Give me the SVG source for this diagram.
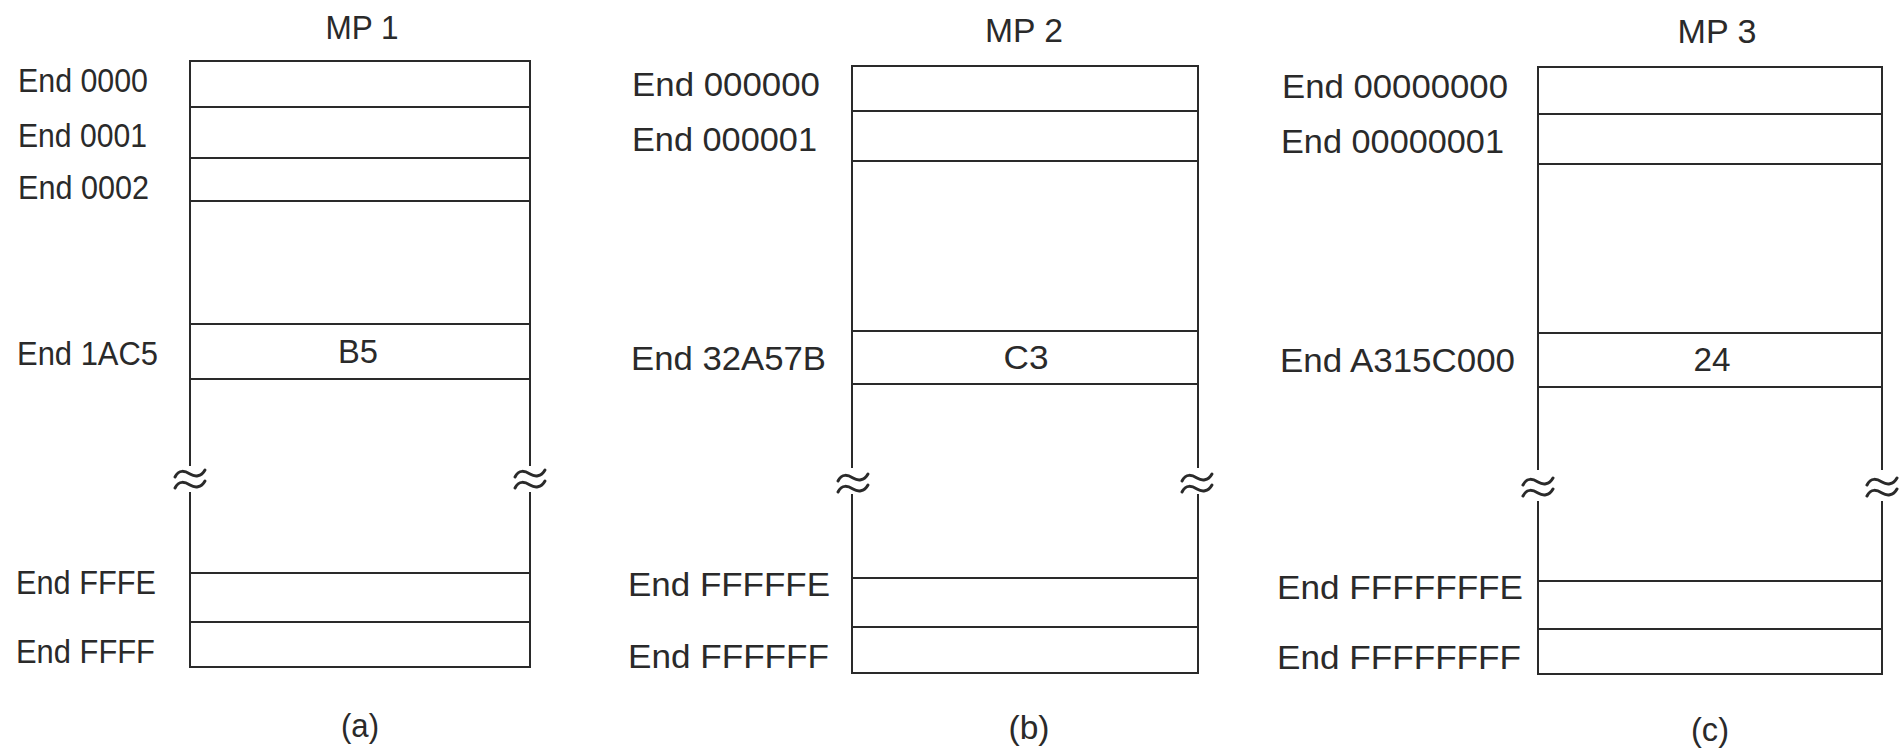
<svg xmlns="http://www.w3.org/2000/svg" xmlns:xlink="http://www.w3.org/1999/xlink" width="1899" height="748" viewBox="0 0 1899 748">
<style>
  .ln { stroke:#2a2a2a; stroke-width:2; fill:none; stroke-linecap:square; }
  .ap { stroke:#2a2a2a; stroke-width:3; fill:none; stroke-linecap:round; }
  text { font-family:"Liberation Sans", Arial, Helvetica, sans-serif; font-size:33px; fill:#2a2a2a; }
  .mid { text-anchor:middle; }
</style>
<defs>
  <g id="approx">
    <path class="ap" d="M-15,-2 C-11,-10 -5,-8 0,-5 S11,-2 15,-9"/>
    <path class="ap" d="M-15,9 C-11,1 -5,3 0,6 S11,9 15,2"/>
  </g>
</defs>
<rect width="1899" height="748" fill="#ffffff"/>

<g id="panel-a">
  <text class="mid" x="362" y="39" textLength="73" lengthAdjust="spacingAndGlyphs">MP 1</text>
  <path class="ln" d="M190,465 V61 H530 V465 M190,493 V667 H530 V493"/>
  <path class="ln" d="M190,107 H530 M190,158 H530 M190,201 H530 M190,324 H530 M190,379 H530 M190,573 H530 M190,622 H530"/>
  <use xlink:href="#approx" href="#approx" x="190" y="479"/>
  <use xlink:href="#approx" href="#approx" x="530" y="479"/>
  <text x="18" y="92" textLength="130" lengthAdjust="spacingAndGlyphs">End 0000</text>
  <text x="18" y="147" textLength="129" lengthAdjust="spacingAndGlyphs">End 0001</text>
  <text x="18" y="199" textLength="131" lengthAdjust="spacingAndGlyphs">End 0002</text>
  <text x="17" y="365" textLength="141" lengthAdjust="spacingAndGlyphs">End 1AC5</text>
  <text class="mid" x="358" y="363" textLength="40" lengthAdjust="spacingAndGlyphs">B5</text>
  <text x="16" y="594" textLength="140" lengthAdjust="spacingAndGlyphs">End FFFE</text>
  <text x="16" y="663" textLength="139" lengthAdjust="spacingAndGlyphs">End FFFF</text>
  <text class="mid" x="360" y="737" textLength="38" lengthAdjust="spacingAndGlyphs">(a)</text>
</g>

<g id="panel-b">
  <text class="mid" x="1024" y="42" textLength="78" lengthAdjust="spacingAndGlyphs">MP 2</text>
  <path class="ln" d="M852,467 V66 H1198 V467 M852,495 V673 H1198 V495"/>
  <path class="ln" d="M852,111 H1198 M852,161 H1198 M852,331 H1198 M852,384 H1198 M852,578 H1198 M852,627 H1198"/>
  <use xlink:href="#approx" href="#approx" x="853" y="483"/>
  <use xlink:href="#approx" href="#approx" x="1197" y="483"/>
  <text x="632" y="96" textLength="188" lengthAdjust="spacingAndGlyphs">End 000000</text>
  <text x="632" y="151" textLength="185" lengthAdjust="spacingAndGlyphs">End 000001</text>
  <text x="631" y="370" textLength="195" lengthAdjust="spacingAndGlyphs">End 32A57B</text>
  <text class="mid" x="1026" y="369" textLength="45" lengthAdjust="spacingAndGlyphs">C3</text>
  <text x="628" y="596" textLength="202" lengthAdjust="spacingAndGlyphs">End FFFFFE</text>
  <text x="628" y="668" textLength="201" lengthAdjust="spacingAndGlyphs">End FFFFFF</text>
  <text class="mid" x="1029" y="739" textLength="41" lengthAdjust="spacingAndGlyphs">(b)</text>
</g>

<g id="panel-c">
  <text class="mid" x="1717" y="43" textLength="79" lengthAdjust="spacingAndGlyphs">MP 3</text>
  <path class="ln" d="M1538,469 V67 H1882 V469 M1538,502 V674 H1882 V502"/>
  <path class="ln" d="M1538,114 H1882 M1538,164 H1882 M1538,333 H1882 M1538,387 H1882 M1538,581 H1882 M1538,629 H1882"/>
  <use xlink:href="#approx" href="#approx" x="1538" y="487"/>
  <use xlink:href="#approx" href="#approx" x="1882" y="487"/>
  <text x="1282" y="98" textLength="226" lengthAdjust="spacingAndGlyphs">End 00000000</text>
  <text x="1281" y="153" textLength="223" lengthAdjust="spacingAndGlyphs">End 00000001</text>
  <text x="1280" y="372" textLength="235" lengthAdjust="spacingAndGlyphs">End A315C000</text>
  <text class="mid" x="1712" y="371" textLength="37" lengthAdjust="spacingAndGlyphs">24</text>
  <text x="1277" y="599" textLength="246" lengthAdjust="spacingAndGlyphs">End FFFFFFFE</text>
  <text x="1277" y="669" textLength="244" lengthAdjust="spacingAndGlyphs">End FFFFFFFF</text>
  <text class="mid" x="1710" y="741" textLength="38" lengthAdjust="spacingAndGlyphs">(c)</text>
</g>
</svg>
